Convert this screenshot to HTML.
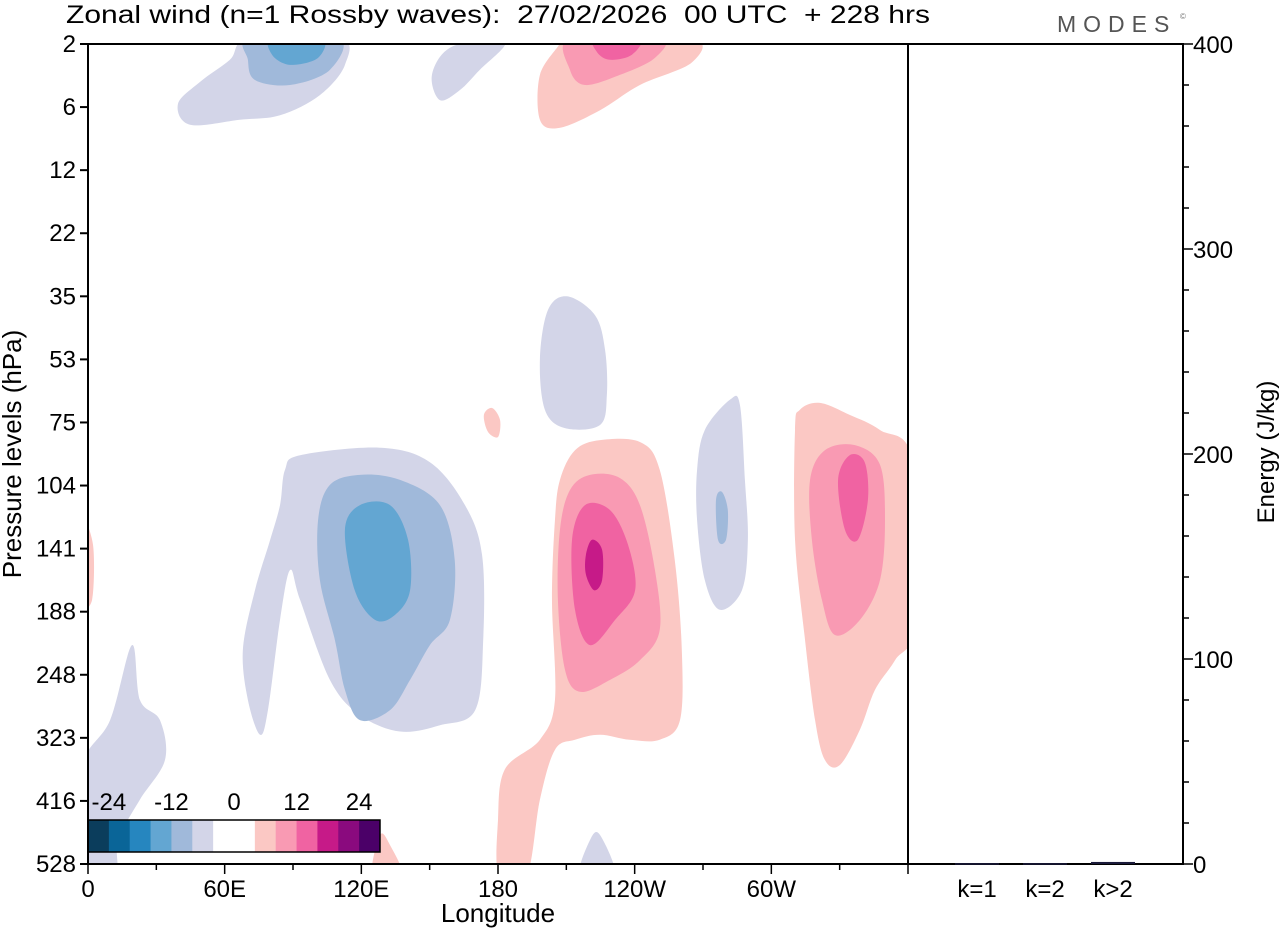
<!DOCTYPE html>
<html><head><meta charset="utf-8"><style>
html,body{margin:0;padding:0;background:#fff}
svg{display:block;font-family:"Liberation Sans",sans-serif}
</style></head><body>
<svg id="chart" width="1280" height="930" viewBox="0 0 1280 930">
<defs><clipPath id="plotclip"><rect x="88" y="44" width="820" height="820"/></clipPath></defs>
<text x="66" y="23" font-size="25" textLength="864" lengthAdjust="spacingAndGlyphs" style="white-space:pre">Zonal wind (n=1 Rossby waves):  27/02/2026  00 UTC  + 228 hrs</text>
<text x="1057" y="32" font-size="23" fill="#555" letter-spacing="7">MODES</text>
<text x="1180" y="19" font-size="8" fill="#777">©</text>
<g id="contours" clip-path="url(#plotclip)"></g>
<g id="axes"></g>
</svg>
<script>
const levels=["2","6","12","22","35","53","75","104","141","188","248","323","416","528"];
const lonTicks=[0,60,120,180,240,300];
const lonLabels=["0","60E","120E","180","120W","60W"];
const energyTicks=[0,100,200,300,400];
const energyCats=["k=1","k=2","k>2"];
const energyVals=[0.4,0.4,1.0];
const cbColors=["#0b3d5c","#0a6598","#2686bf","#63a6d2","#a0b9da","#d3d5e8","#ffffff","#ffffff","#fbc8c4","#f99ab3","#f063a2","#c61a88","#8a0a7e","#4b0068"];
const cbLabels=["-24","-12","0","12","24"];
const cbLabelVals=[-24,-12,0,12,24];
// contour blobs: [colorIndex, [[lon, levelIndex], ...]]
const blobs=[
[5,[[39.5,0.95],[49.2,0.6],[62.3,0.25],[71,-0.1],[110.6,-0.1],[112.8,0.33],[101.8,0.81],[84.3,1.13],[66.7,1.2],[44.8,1.28]]],
[4,[[71,-0.1],[109.8,-0.1],[106.2,0.41],[88.7,0.65],[73.3,0.57],[70.2,0.25]]],
[3,[[80.8,-0.1],[102.7,-0.1],[101,0.22],[88.7,0.33],[80.8,0.17]]],
[5,[[151,0.49],[158.9,0.06],[178.7,-0.1],[183,0.02],[172,0.41],[163.3,0.73],[154.5,0.89]]],
[8,[[198.4,1.2],[198.4,0.49],[207,0],[207,-0.1],[264.3,-0.1],[265.2,0.29],[242.3,0.65],[224.8,1.05],[207,1.33]]],
[9,[[211.6,-0.1],[251,-0.1],[248.9,0.22],[233.5,0.49],[218.2,0.65],[211.6,0.41]]],
[10,[[222.6,-0.1],[242.3,-0.1],[238.8,0.17],[229.2,0.25],[223.5,0.13]]],
[5,[[198.4,5.0],[201.9,4.22],[210.3,4.0],[222.6,4.3],[227,4.85],[227.8,5.56],[224.8,6.04],[209.4,6.09],[200.6,5.8]]],
[8,[[173.8,5.88],[177.4,5.77],[180.9,5.96],[180,6.23],[175.6,6.15]]],
[5,[[-3,11.5],[9.7,10.72],[19.3,9.53],[22.8,10.4],[31.6,10.72],[33.8,11.35],[22.8,11.98],[13.2,12.62],[11.9,13.2],[-3,13.2]]],
[5,[[84.3,7.31],[86.5,6.75],[93.1,6.52],[128.2,6.4],[150.1,6.63],[165.5,7.31],[173,8.1],[173.5,9.45],[170,10.56],[154.5,10.8],[137,10.9],[119.4,10.64],[106.2,10.08],[93.1,8.81],[88.7,8.34],[84.3,9.13],[79,10.56],[75.5,10.95],[70.2,10.4],[68,9.6],[73.3,8.66],[79.9,7.87]]],
[4,[[101,7.55],[106.2,6.99],[119.4,6.83],[137,6.91],[154.5,7.31],[161,8.18],[158.9,9.13],[150.1,9.53],[141.4,10.08],[132.6,10.56],[119.4,10.72],[112.8,10.24],[108.4,9.45],[101.8,8.5]]],
[3,[[112.8,7.7],[119.4,7.31],[132.6,7.31],[140.5,7.86],[141.4,8.66],[134.8,9.05],[126,9.13],[117.1,8.66]]],
[8,[[205,7.55],[207.2,6.91],[213.8,6.44],[224.8,6.28],[242.3,6.31],[251,6.75],[257.6,8.18],[260.7,9.61],[259.9,10.72],[251,11.03],[237.8,11.03],[224.8,10.95],[213.8,11.03],[205,11.19],[198.4,11.98],[192.5,13.2],[180.5,13.2],[180,12.3],[183,11.5],[198.4,11.03],[205,10.4],[203.7,8.81]]],
[8,[[125,13.2],[128.2,12.54],[132.6,12.7],[138,13.2]]],
[9,[[207.2,7.7],[211.6,7.07],[220.4,6.83],[233.5,6.88],[242.3,7.31],[248.9,8.34],[251,9.29],[242.3,9.77],[229.2,10.08],[216,10.27],[209.4,9.92],[206.3,8.81]]],
[10,[[212.5,7.86],[218.2,7.31],[229.2,7.39],[237.1,7.94],[240.2,8.66],[231.4,9.13],[220.4,9.53],[213.8,8.97]]],
[11,[[218.6,8.1],[221.3,7.86],[225.7,8.02],[225.7,8.5],[222.2,8.66],[218.6,8.41]]],
[5,[[267.4,6.75],[270.8,6.12],[281.8,5.64],[286.2,5.72],[288.4,6.91],[289.7,7.86],[287.1,8.66],[277.4,8.97],[270.8,8.5],[267.4,7.55]]],
[4,[[275.7,7.23],[278.3,7.1],[280.9,7.39],[280.1,7.86],[276.6,7.86]]],
[8,[[310.4,6.12],[312.5,5.8],[321.3,5.69],[334.4,5.88],[347.7,6.12],[362,6.6],[364,9.13],[354.3,9.77],[345.5,10.24],[338.9,10.87],[330.1,11.43],[323.5,11.35],[319.2,10.72],[314.8,9.45],[310.4,7.86]]],
[9,[[317,6.91],[323.5,6.44],[336.7,6.36],[347.7,6.67],[349.9,7.55],[347.7,8.5],[338.9,9.13],[327.9,9.37],[322.2,8.81],[317.8,7.86]]],
[10,[[329.3,6.91],[334.4,6.52],[341,6.63],[342.4,7.23],[338,7.86],[332.3,7.7]]],
[8,[[-3,7.55],[2.2,7.94],[1.8,8.81],[-3,8.81]]],
[5,[[216,13.2],[220.4,12.62],[224.8,12.54],[231.4,13.2]]]
];
const NS="http://www.w3.org/2000/svg";
const X0=88,X1=908,Y0=44,Y1=864;
const xLon=v=>X0+(v/360)*(X1-X0);
const yLev=i=>Y0+i*(Y1-Y0)/(levels.length-1);
const E0=908,E1=1183;
const yE=v=>Y1-(v/400)*(Y1-Y0);
function mk(tag,attrs,parent){const e=document.createElementNS(NS,tag);for(const k in attrs)e.setAttribute(k,attrs[k]);parent.appendChild(e);return e;}
function smooth(p){let d=`M${p[0][0]},${p[0][1]}`;const n=p.length;
for(let i=0;i<n;i++){const a=p[(i-1+n)%n],b=p[i],c=p[(i+1)%n],e=p[(i+2)%n];
d+=`C${b[0]+(c[0]-a[0])/6},${b[1]+(c[1]-a[1])/6} ${c[0]-(e[0]-b[0])/6},${c[1]-(e[1]-b[1])/6} ${c[0]},${c[1]}`;}
return d+"Z";}
const cg=document.getElementById("contours");
blobs.forEach((b,i)=>{const pts=b[1].map(q=>[xLon(q[0]),yLev(q[1])]);
const p=mk("path",{d:smooth(pts),fill:cbColors[b[0]]},cg);

});
const ax=document.getElementById("axes");
const FS=24;
// colorbar
const cbx=88,cby=820,cbw=292,cbh=32,sw=cbw/cbColors.length;
cbColors.forEach((c,i)=>{const r=mk("rect",{x:cbx+i*sw,y:cby,width:sw+0.5,height:cbh,fill:c},ax);

});
const cbo=mk("rect",{x:cbx,y:cby,width:cbw,height:cbh,fill:"none",stroke:"#000","stroke-width":1.5},ax);


cbLabelVals.forEach((v,i)=>{const t=mk("text",{x:cbx+cbw/2+v/4*sw,y:810,"font-size":FS,"text-anchor":"middle"},ax);t.textContent=cbLabels[i];

});
// frames
const f1=mk("rect",{x:X0,y:Y0,width:X1-X0,height:Y1-Y0,fill:"none",stroke:"#000","stroke-width":2},ax);


const f2=mk("rect",{x:E0,y:Y0,width:E1-E0,height:Y1-Y0,fill:"none",stroke:"#000","stroke-width":2},ax);


// y ticks
levels.forEach((l,i)=>{const y=yLev(i);
mk("line",{x1:X0-8,x2:X0,y1:y,y2:y,stroke:"#000","stroke-width":2},ax);
const t=mk("text",{x:76,y:y+8,"font-size":FS,"text-anchor":"end"},ax);t.textContent=l;

});
// x ticks
for(let v=0;v<=360;v+=30){const x=xLon(v);mk("line",{x1:x,x2:x,y1:Y1,y2:Y1+(v%60?6:10),stroke:"#000","stroke-width":1.5},ax);}
lonTicks.forEach((v,i)=>{const t=mk("text",{x:xLon(v),y:897,"font-size":FS,"text-anchor":"middle"},ax);t.textContent=lonLabels[i];

});
const xt=mk("text",{x:498,y:922,"font-size":26,"text-anchor":"middle"},ax);xt.textContent="Longitude";


const yt=mk("text",{x:0,y:0,"font-size":26,"text-anchor":"middle",transform:"translate(21,454) rotate(-90)"},ax);yt.textContent="Pressure levels (hPa)";


// energy axis
for(let v=0;v<=400;v+=20){const y=yE(v);mk("line",{x1:E1,x2:E1+(v%100?6:10),y1:y,y2:y,stroke:"#000","stroke-width":1.5},ax);}
energyTicks.forEach(v=>{const t=mk("text",{x:1193,y:yE(v)+9,"font-size":FS},ax);t.textContent=String(v);

});
const et=mk("text",{x:0,y:0,"font-size":24,"text-anchor":"middle",transform:"translate(1274,452) rotate(-90)"},ax);et.textContent="Energy (J/kg)";


energyCats.forEach((c,i)=>{const cx=977+i*68;
const b=mk("rect",{x:cx-22,y:yE(energyVals[i]),width:44,height:Math.max(1.5,Y1-yE(energyVals[i])),fill:"#1a1a3a"},ax);


const t=mk("text",{x:cx,y:897,"font-size":FS,"text-anchor":"middle"},ax);t.textContent=c;

});
</script>
</body></html>
